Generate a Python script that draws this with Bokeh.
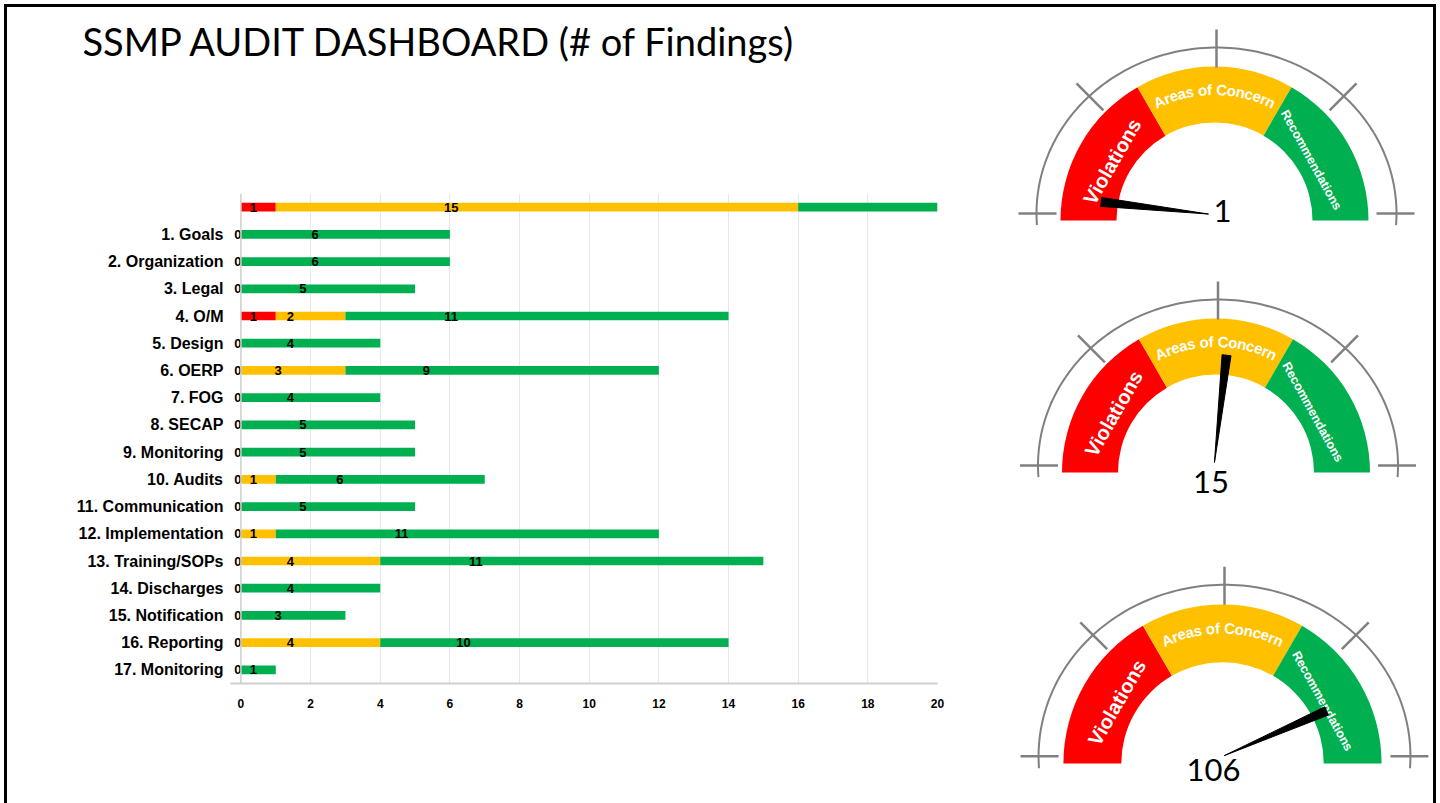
import numpy as np
from bokeh.plotting import figure
from bokeh.layouts import row, column
from bokeh.models import ColumnDataSource, Range1d, FactorRange, FixedTicker, Span, Title
from bokeh.core.properties import value
from bokeh.embed import file_html
from bokeh.resources import INLINE

# ---- data -------------------------------------------------------------
title_text = "SSMP AUDIT DASHBOARD (# of Findings)"

sections = [
    "1. Goals", "2. Organization", "3. Legal", "4. O/M", "5. Design",
    "6. OERP", "7. FOG", "8. SECAP", "9. Monitoring", "10. Audits",
    "11. Communication", "12. Implementation", "13. Training/SOPs",
    "14. Discharges", "15. Notification", "16. Reporting", "17. Monitoring",
]
violations      = [0, 0, 0, 1, 0, 0, 0, 0, 0, 0, 0, 0, 0, 0, 0, 0, 0]
concerns        = [0, 0, 0, 2, 0, 3, 0, 0, 0, 1, 0, 1, 4, 0, 0, 4, 0]
recommendations = [6, 6, 5, 11, 4, 9, 4, 5, 5, 6, 5, 11, 11, 4, 3, 10, 1]

series_names = ["violations", "concerns", "recommendations"]
series_colors = ["#FF0000", "#FFC000", "#00B050"]
x_ticks = [0, 2, 4, 6, 8, 10, 12, 14, 16, 18, 20]

gauge_labels = ["Violations", "Areas of Concern", "Recommendations"]
gauge_max = [28, 28, 122]

# totals row (unlabelled, on top)
total_key = " "
categories = [total_key] + sections
v_all = [sum(violations)] + violations
c_all = [sum(concerns)] + concerns
r_all = [sum(recommendations)] + recommendations
gauge_values = [sum(violations), sum(concerns), sum(recommendations)]

FONT = "Liberation Sans"
X_MIN, X_MAX = -0.3, 20

# ---- stacked bar chart (with the page title above it) -------------------
src = ColumnDataSource(dict(cat=categories, violations=v_all, concerns=c_all,
                            recommendations=r_all))

bar = figure(width=1000, height=796, y_range=FactorRange(factors=list(reversed(categories)),
             range_padding=0), x_range=Range1d(X_MIN, X_MAX),
             min_border_left=223, min_border_right=70, min_border_top=186, min_border_bottom=120,
             output_backend="svg", toolbar_location=None)
bar.title = Title(text=title_text, text_font="Lato", text_font_size="38px",
                  text_font_style="normal", text_color="black", align="left",
                  offset=-148, standoff=10)
# blank band between the heading and the chart area
bar.add_layout(Title(text=" ", text_font_size="1px", standoff=122), "above")
bar.outline_line_color = None
bar.hbar_stack(series_names, y="cat", height=0.32, color=series_colors, source=src,
               line_color=None)
bar.add_layout(Span(location=0, dimension="height", line_color="#d0d0d0", line_width=1.5))

# value labels: drawn toward the start of each segment; zero counts sit at the axis
LABEL_POS = 0.71
lab_x, lab_y, lab_t = [], [], []
zero_y = []
for cat, vals in zip(categories, zip(v_all, c_all, r_all)):
    start = 0
    has_zero = False
    for v in vals:
        if v == 0:
            has_zero = True
        else:
            cx = (start + v / 2) * LABEL_POS
            if cx < X_MAX:
                lab_x.append(cx); lab_y.append(cat); lab_t.append(str(v))
        start += v
    if has_zero:
        zero_y.append(cat)

bar.text(x=lab_x, y=lab_y, text=lab_t, text_font=value(FONT), text_font_style="bold",
         text_font_size="13px", text_align="center", text_baseline="middle", text_color="black")
bar.text(x=[0] * len(zero_y), y=zero_y, text=["0"] * len(zero_y), x_offset=-3,
         text_font=value(FONT), text_font_style="bold", text_font_size="13px",
         text_align="center", text_baseline="middle", text_color="black")

bar.ygrid.visible = False
bar.xgrid.grid_line_color = "#e8e8e8"
bar.xgrid.grid_line_width = 1
bar.xaxis.ticker = FixedTicker(ticks=x_ticks)
bar.xaxis.axis_line_color = "#d0d0d0"
bar.xaxis.axis_line_width = 2
bar.xaxis.major_tick_line_color = None
bar.xaxis.minor_tick_line_color = None
bar.xaxis.major_label_text_font = FONT
bar.xaxis.major_label_text_font_style = "bold"
bar.xaxis.major_label_text_font_size = "12px"
bar.xaxis.major_label_text_color = "black"
bar.xaxis.major_label_standoff = 9
bar.yaxis.axis_line_color = None
bar.yaxis.major_tick_line_color = None
bar.yaxis.minor_tick_line_color = None
bar.yaxis.major_label_text_font = FONT
bar.yaxis.major_label_text_font_style = "bold"
bar.yaxis.major_label_text_font_size = "16px"
bar.yaxis.major_label_text_color = "black"
bar.yaxis.major_label_standoff = 1

# ---- gauges -------------------------------------------------------------
CHAR_W = {"A": 722, "C": 722, "R": 722, "V": 667, "a": 556, "c": 556, "d": 611,
          "e": 556, "f": 333, "i": 278, "l": 278, "m": 889, "n": 611, "o": 611,
          "r": 389, "s": 556, "t": 333, " ": 278}


def arc_text(p, txt, cx, cy, r, center_deg, size):
    """Lay text out letter by letter along an arc, reading clockwise."""
    widths = [CHAR_W.get(ch, 556) * size / 1000 for ch in txt]
    total = sum(widths)
    xs, ys, angs, chars = [], [], [], []
    cum = 0
    for ch, w in zip(txt, widths):
        mid = cum + w / 2
        th = np.radians(center_deg) + (total / 2 - mid) / r
        xs.append(cx + r * np.cos(th)); ys.append(cy + r * np.sin(th))
        angs.append(th - np.pi / 2); chars.append(ch)
        cum += w
    p.text(x=xs, y=ys, text=chars, angle=angs, text_font=value(FONT), text_font_style="bold",
           text_font_size=f"{size}px", text_align="center", text_baseline="middle",
           text_color="white")


def gauge(top, bottom, cx, cy_page, scale, val, vmax, label_off):
    p = figure(width=426, height=bottom - top, x_range=Range1d(1007, 1433),
               y_range=Range1d(-bottom, -top), x_axis_location=None, y_axis_location=None,
               min_border=0, output_backend="svg", toolbar_location=None)
    p.xgrid.visible = False
    p.ygrid.visible = False
    p.outline_line_color = None
    cy = -cy_page
    rin, rout = 98 * scale, 154 * scale

    # coloured bands
    bounds = [(120, 180), (60, 120), (0, 60)]
    for (a0, a1), col in zip(bounds, series_colors):
        p.annular_wedge(x=cx, y=cy, inner_radius=rin, outer_radius=rout,
                        start_angle=np.radians(a0), end_angle=np.radians(a1),
                        color=col, line_color=None)

    # outer grey scale with tick marks
    gx, gy = cx + 2, cy + 7 * scale
    rx, ry = 180 * scale, 166 * scale
    t = np.radians(np.linspace(-4, 184, 120))
    p.line(gx + rx * np.cos(t), gy + ry * np.sin(t), line_color="#808080", line_width=2)
    tk = np.radians([0, 45, 90, 135, 180])
    px, py = gx + rx * np.cos(tk), gy + ry * np.sin(tk)
    dx, dy = np.cos(tk), np.sin(tk)
    p.segment(px - 20 * dx, py - 20 * dy, px + 18 * dx, py + 18 * dy,
              line_color="#808080", line_width=2.5)

    # band captions
    a = np.radians(150)
    p.text(x=[cx + 118 * scale * np.cos(a)], y=[cy + 118 * scale * np.sin(a)],
           text=[gauge_labels[0]], angle=np.radians(60), text_font=value(FONT),
           text_font_style="bold", text_font_size="20px", text_align="center",
           text_baseline="middle", text_color="white")
    arc_text(p, gauge_labels[1], cx, cy, 131 * scale, 90, 15)
    a = np.radians(32)
    p.text(x=[cx + 114 * scale * np.cos(a)], y=[cy + 114 * scale * np.sin(a)],
           text=[gauge_labels[2]], angle=np.radians(-61), text_font=value(FONT),
           text_font_style="bold", text_font_size="12.5px", text_align="center",
           text_baseline="middle", text_color="white")

    # needle
    th = np.pi * (1 - val / vmax)
    pvx, pvy = cx - 2, gy - 1
    r0, r1, hw = 4, 112 * scale, 4.5
    ux, uy = np.cos(th), np.sin(th)
    nx, ny = -uy, ux
    p.patch([pvx + r0 * ux, pvx + r1 * ux + hw * nx, pvx + r1 * ux - hw * nx],
            [pvy + r0 * uy, pvy + r1 * uy + hw * ny, pvy + r1 * uy - hw * ny],
            color="black", line_color="black")

    # value read-out
    p.text(x=[pvx + label_off[0]], y=[pvy + label_off[1]], text=[str(val)],
           text_font=value("Lato"), text_font_size="31px", text_align="center",
           text_baseline="middle", text_color="black")
    return p


g1 = gauge(7, 262, 1214, 220, 1.0, gauge_values[0], gauge_max[0], (10, 4))
g2 = gauge(262, 522, 1215.5, 472, 1.0, gauge_values[1], gauge_max[1], (-3, -15))
g3 = gauge(522, 803, 1222, 763, 1.033, gauge_values[2], gauge_max[2], (-7, -13))

page = row(bar, column(g1, g2, g3), margin=(4, 4, 0, 4),
           styles={"border-top": "3px solid black", "border-left": "3px solid black",
                   "border-right": "3px solid black"})

open("out.html", "w").write(file_html(page, INLINE))
